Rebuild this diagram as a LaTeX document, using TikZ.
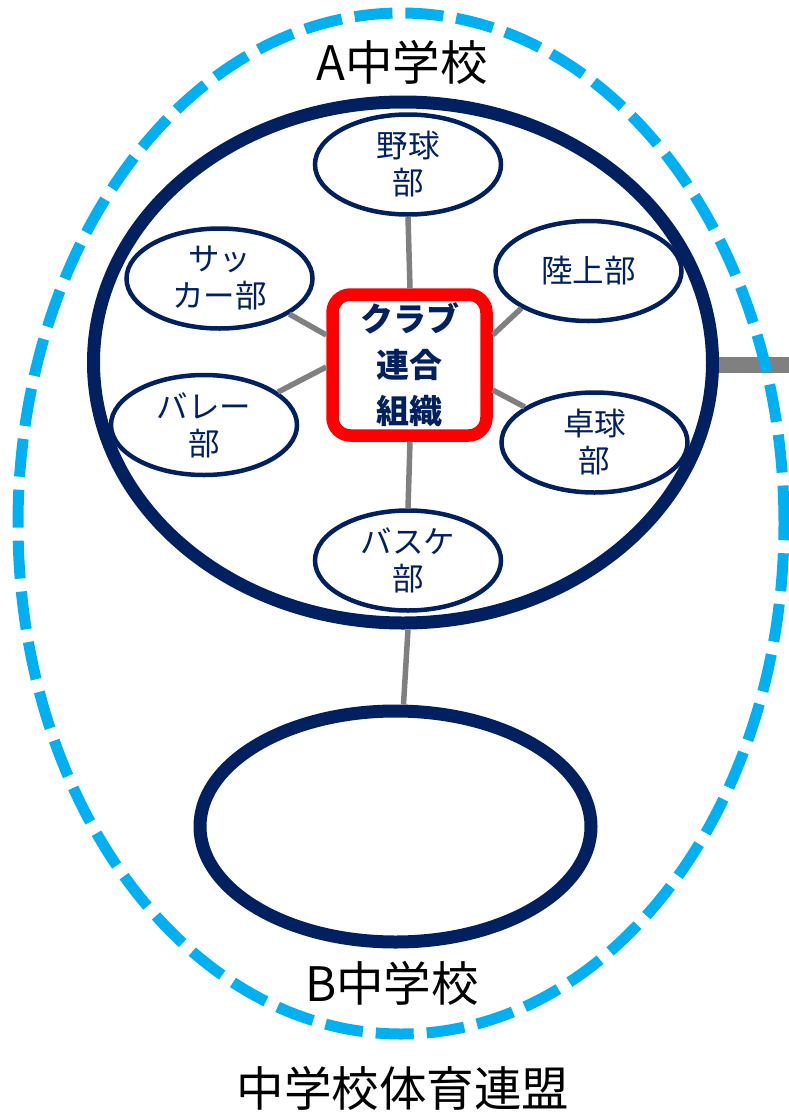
\documentclass[tikz,border=0pt]{standalone}
\usepackage{fontspec}
\setmainfont{Noto Sans CJK JP}
\usetikzlibrary{shapes.geometric,calc}
\definecolor{navy}{RGB}{0,32,96}
\definecolor{cyanline}{RGB}{0,176,240}
\definecolor{conn}{RGB}{128,128,128}
\definecolor{boxred}{RGB}{255,0,0}
\tikzset{
  club/.style={ellipse, draw=navy, line width=4.5pt, fill=white, text=navy,
    minimum width=186pt, minimum height=100pt, inner sep=0pt, align=center,
    font=\fontsize{31.5}{37}\selectfont},
  school/.style={ellipse, draw=navy, line width=13pt},
  link/.style={draw=conn, line width=5.5pt},
  biglabel/.style={font=\fontsize{47.5}{52}\selectfont, text=black, inner sep=0pt},
}
\begin{document}
\begin{tikzpicture}[x=1pt,y=1pt]
\useasboundingbox (0,0) rectangle (788,-1112);
% schools
\node[school, minimum width=619pt, minimum height=521pt] (A) at (403,-362.5) {};
\node[school, minimum width=391pt, minimum height=231pt] (B) at (395.5,-826.5) {};
% right stub
\coordinate (stubend) at (792,-365);
\draw[draw=conn, line width=16pt] ([yshift=-2.5pt]A.east) -- (stubend);
% federation (dashed)
\node[ellipse, draw=cyanline, line width=11pt, dash pattern=on 38pt off 13pt,
  minimum width=766pt, minimum height=1021pt] (F) at (401,-523.5) {};
% link between schools
\draw[link] ([xshift=5pt]A.south) -- ([xshift=8pt]B.north);
% center box
\node[draw=boxred, line width=12.5pt, rounded corners=18pt, fill=white,
  minimum width=154pt, minimum height=141pt, inner sep=0pt, align=center,
  text=navy, font=\fontsize{33}{46}\selectfont\bfseries] (box) at (409.5,-365)
  {クラブ\\連合\\組織};
% clubs
\node[club] (yk) at (408,-164.5) {野球\\部};
\node[club] (rj) at (588.5,-271) {陸上部};
\node[club] (sc) at (219.5,-278.5) {サッ\\カー部};
\node[club] (vb) at (204,-425) {バレー\\部};
\node[club] (tt) at (594.5,-442.5) {卓球\\部};
\node[club] (bk) at (408,-560.5) {バスケ\\部};
% connectors
\draw[link] (yk.south) -- ([xshift=0.5pt]box.north);
\draw[link] (bk.north) -- ([xshift=0.5pt]box.south);
\draw[link] (sc.333) -- ([yshift=30pt]box.west);
\draw[link] (vb.24) -- ([yshift=-2pt]box.west);
\draw[link] (rj.209) -- ([yshift=30pt]box.east);
\draw[link] (tt.153) -- ([yshift=-25pt]box.east);
% labels
\node[biglabel] (la) at (402,-62) {A中学校};
\node[biglabel] (lb) at (392,-983) {B中学校};
\node[biglabel] (lf) at (403,-1088) {中学校体育連盟};
\end{tikzpicture}
\end{document}
